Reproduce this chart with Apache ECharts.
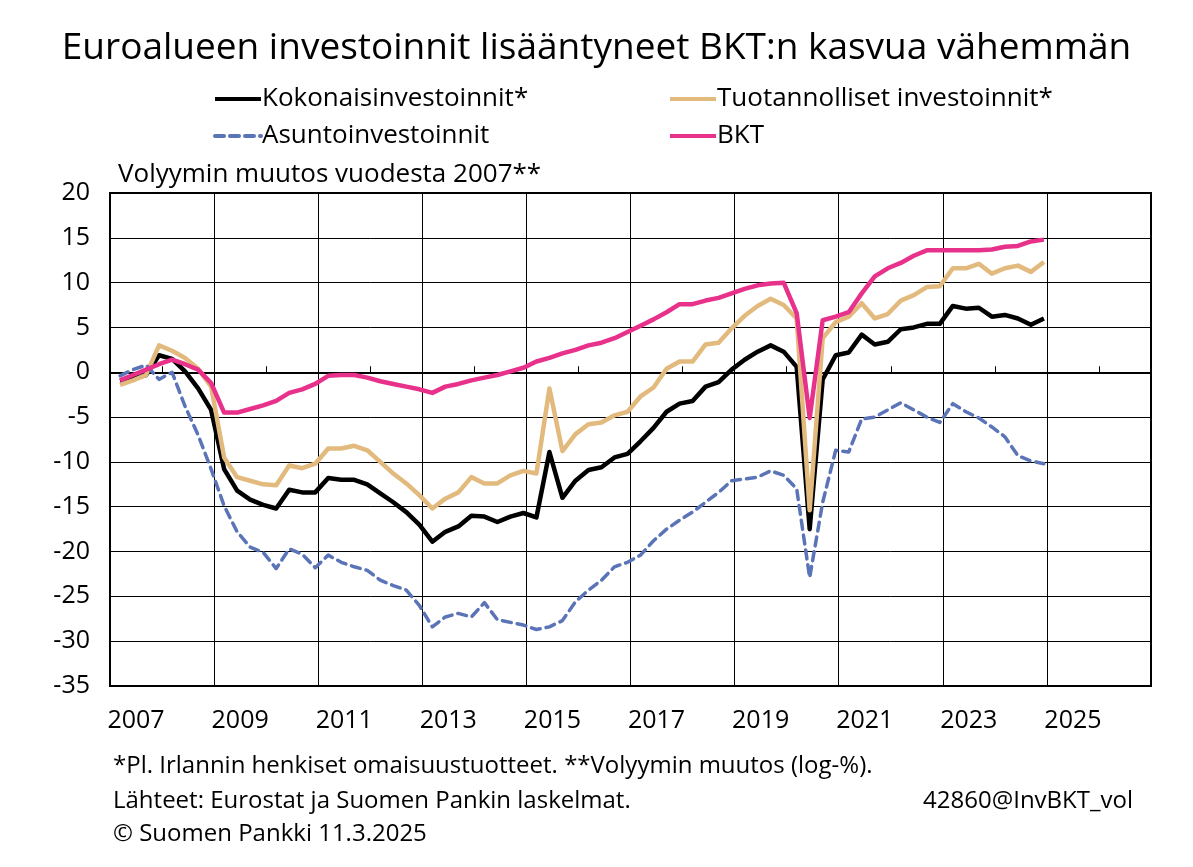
<!DOCTYPE html>
<html>
<head>
<meta charset="utf-8">
<script src="https://cdn.jsdelivr.net/npm/echarts@6/dist/echarts.min.js"></script>
<style>
  html, body { margin: 0; padding: 0; background: #fff; }
  #chart { width: 1193px; height: 867px; }
</style>
</head>
<body>
<div id="chart"></div>
<script>
// Axis categories (years shown on the x axis) and quarters of the data
const years = ['2007','2008','2009','2010','2011','2012','2013','2014','2015','2016',
               '2017','2018','2019','2020','2021','2022','2023','2024','2025','2026'];
const quarters = [];
for (let y = 2007; y <= 2024; y++) for (let q = 1; q <= 4; q++) quarters.push(y + 'Q' + q);

// Volume change from 2007 (log-%), quarterly 2007Q1 - 2024Q4
const kokonais = [
  -1.0, -0.7, -0.3, 1.9, 1.5, 0.1, -1.8, -4.2,
  -10.8, -13.2, -14.2, -14.8, -15.2, -13.1, -13.4, -13.4,
  -11.8, -12.0, -12.0, -12.5, -13.5, -14.5, -15.6, -17.0,
  -18.9, -17.8, -17.2, -16.0, -16.1, -16.7, -16.1, -15.7,
  -16.2, -8.9, -14.0, -12.1, -10.9, -10.6, -9.5, -9.1,
  -7.7, -6.2, -4.4, -3.5, -3.2, -1.6, -1.1, 0.3,
  1.4, 2.3, 3.0, 2.3, 0.6, -17.5, -0.8, 1.9,
  2.2, 4.2, 3.1, 3.4, 4.8, 5.0, 5.4, 5.4,
  7.4, 7.1, 7.2, 6.2, 6.4, 6.0, 5.3, 6.0
];
const tuotannolliset = [
  -1.4, -0.9, -0.3, 3.0, 2.4, 1.6, 0.4, -1.6,
  -9.5, -11.7, -12.1, -12.5, -12.6, -10.4, -10.7, -10.2,
  -8.5, -8.5, -8.2, -8.7, -10.0, -11.3, -12.4, -13.7,
  -15.2, -14.1, -13.4, -11.7, -12.4, -12.4, -11.5, -11.0,
  -11.3, -1.8, -8.8, -6.9, -5.8, -5.6, -4.8, -4.4,
  -2.7, -1.7, 0.4, 1.2, 1.2, 3.1, 3.3, 4.9,
  6.3, 7.4, 8.2, 7.5, 6.0, -15.4, 3.8, 5.6,
  6.2, 7.7, 6.0, 6.5, 8.0, 8.6, 9.5, 9.6,
  11.6, 11.6, 12.1, 11.0, 11.6, 11.9, 11.2, 12.3
];
const asunto = [
  -0.4, 0.3, 0.8, -0.8, 0.0, -3.8, -7.0, -10.8,
  -14.9, -17.8, -19.5, -20.1, -21.9, -19.7, -20.3, -21.8,
  -20.4, -21.2, -21.7, -22.1, -23.2, -23.8, -24.3, -26.0,
  -28.4, -27.3, -26.9, -27.3, -25.7, -27.6, -27.9, -28.2,
  -28.7, -28.4, -27.7, -25.6, -24.3, -23.2, -21.7, -21.2,
  -20.4, -18.8, -17.5, -16.5, -15.6, -14.5, -13.4, -12.1,
  -11.9, -11.7, -11.0, -11.5, -13.0, -22.9, -14.5, -8.7,
  -8.9, -5.2, -5.0, -4.2, -3.4, -4.2, -5.0, -5.6,
  -3.5, -4.4, -5.1, -6.1, -7.2, -9.3, -9.9, -10.2
];
const bkt = [
  -0.9, -0.3, 0.3, 0.9, 1.4, 0.9, 0.3, -1.2,
  -4.5, -4.5, -4.1, -3.7, -3.2, -2.3, -1.9, -1.3,
  -0.4, -0.3, -0.3, -0.6, -1.0, -1.3, -1.6, -1.9,
  -2.3, -1.6, -1.3, -0.9, -0.6, -0.3, 0.1, 0.5,
  1.2, 1.6, 2.1, 2.5, 3.0, 3.3, 3.8, 4.5,
  5.2, 5.9, 6.7, 7.6, 7.6, 8.0, 8.3, 8.8,
  9.3, 9.7, 9.9, 10.0, 6.6, -5.1, 5.8, 6.2,
  6.7, 8.8, 10.7, 11.6, 12.2, 13.0, 13.6, 13.6,
  13.6, 13.6, 13.6, 13.7, 14.0, 14.1, 14.6, 14.8
];
const yTicks = { min: -35, max: 20, step: 5 };

// Position of each quarterly observation on the time scale (in quarters since 2007Q1 start)
const obsOffset = 0.77;
function toPairs(values) {
  return values.map((v, i) => [i + obsOffset, v]);
}

const FONT = '"Open Sans", Lato, "Noto Sans", sans-serif';
const chart = echarts.init(document.getElementById('chart'), null, { renderer: 'canvas' });

const legendCommon = {
  orient: 'vertical', top: 81, itemGap: 11,
  itemWidth: 46, itemHeight: 14,
  itemStyle: { opacity: 0 },
  lineStyle: { width: 4 },
  textStyle: { fontSize: 26, fontFamily: FONT, color: '#000', padding: [0, 0, 0, -4] }
};

const option = {
  backgroundColor: '#ffffff',
  animation: false,
  textStyle: { fontFamily: FONT, color: '#000' },
  grid: {
    left: 110, right: 42, top: 193, bottom: 181,
    show: true, borderColor: '#000', borderWidth: 2, backgroundColor: 'transparent'
  },
  graphic: [
    { type: 'text', left: 'center', top: 30,
      style: { text: 'Euroalueen investoinnit lisääntyneet BKT:n kasvua vähemmän',
               font: '37px ' + FONT, fill: '#000' } },
    { type: 'text', left: 118, top: 162,
      style: { text: 'Volyymin muutos vuodesta 2007**', font: '26px ' + FONT, fill: '#000' } },
    { type: 'text', left: 113, top: 754,
      style: { text: '*Pl. Irlannin henkiset omaisuustuotteet. **Volyymin muutos (log-%).',
               font: '24px ' + FONT, fill: '#000' } },
    { type: 'text', left: 113, top: 789,
      style: { text: 'Lähteet: Eurostat ja Suomen Pankin laskelmat.', font: '24px ' + FONT, fill: '#000' } },
    { type: 'text', right: 60, top: 789,
      style: { text: '42860@InvBKT_vol', font: '24px ' + FONT, fill: '#000' } },
    { type: 'text', left: 113, top: 822,
      style: { text: '© Suomen Pankki 11.3.2025', font: '24px ' + FONT, fill: '#000' } }
  ],
  legend: [
    Object.assign({ data: ['Kokonaisinvestoinnit*', 'Asuntoinvestoinnit'], left: 208 }, legendCommon),
    Object.assign({ data: ['Tuotannolliset investoinnit*', 'BKT'], left: 663 }, legendCommon)
  ],
  xAxis: [
    {
      type: 'category', data: years, boundaryGap: true,
      axisLine: { show: true, lineStyle: { color: '#000', width: 2 } },
      axisTick: { show: true, interval: 0, inside: true, length: 6, lineStyle: { color: '#000', width: 1 } },
      axisLabel: { interval: 1, fontSize: 25, color: '#000', margin: 22, fontFamily: FONT },
      splitLine: { show: true, interval: 1, lineStyle: { color: '#000', width: 1 } }
    },
    {
      type: 'value', min: 0, max: years.length * 4, show: false,
      splitLine: { show: false }
    }
  ],
  yAxis: {
    type: 'value', min: yTicks.min, max: yTicks.max, interval: yTicks.step,
    axisLine: { show: true, lineStyle: { color: '#000', width: 2 } },
    axisTick: { show: false },
    axisLabel: { fontSize: 25, color: '#000', margin: 20, fontFamily: FONT },
    splitLine: { show: true, lineStyle: { color: '#000', width: 1 } }
  },
  series: [
    { name: 'Kokonaisinvestoinnit*', type: 'line', xAxisIndex: 1, data: toPairs(kokonais),
      symbol: 'none', color: '#000000', lineStyle: { color: '#000000', width: 4.5, join: 'round' }, z: 2 },
    { name: 'Tuotannolliset investoinnit*', type: 'line', xAxisIndex: 1, data: toPairs(tuotannolliset),
      symbol: 'none', color: '#E3BA7E', lineStyle: { color: '#E3BA7E', width: 4.5, join: 'round' }, z: 3 },
    { name: 'Asuntoinvestoinnit', type: 'line', xAxisIndex: 1, data: toPairs(asunto),
      symbol: 'none', color: '#5B74B8',
      lineStyle: { color: '#5B74B8', width: 3.5, type: [9, 6], cap: 'round', join: 'round' }, z: 4 },
    { name: 'BKT', type: 'line', xAxisIndex: 1, data: toPairs(bkt),
      symbol: 'none', color: '#E8318A', lineStyle: { color: '#E8318A', width: 4.5, join: 'round' }, z: 5 }
  ]
};
chart.setOption(option);
</script>
</body>
</html>
